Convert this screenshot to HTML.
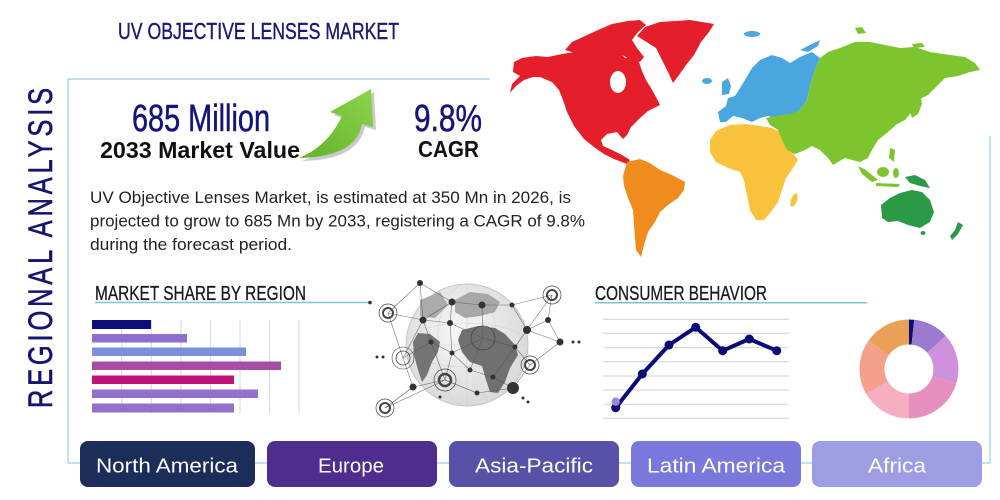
<!DOCTYPE html>
<html><head><meta charset="utf-8"><style>
html,body{margin:0;padding:0;background:#fff;width:1000px;height:500px;overflow:hidden}
svg{display:block}
text{font-family:"Liberation Sans",Arial,sans-serif}
.cond{font-family:"Liberation Sans Narrow","Liberation Sans",Arial,sans-serif}
</style></head><body>
<svg width="1000" height="500" viewBox="0 0 1000 500" xmlns="http://www.w3.org/2000/svg">
<defs>
<linearGradient id="ag" x1="0" y1="1" x2="1" y2="0"><stop offset="0" stop-color="#5fb52b"/><stop offset="1" stop-color="#8fd24a"/></linearGradient>
<radialGradient id="gg" cx="0.45" cy="0.4" r="0.6"><stop offset="0" stop-color="#f7f7f7"/><stop offset="1" stop-color="#d9d9d9"/></radialGradient>
</defs>
<rect width="1000" height="500" fill="#fff"/>

<!-- frame -->
<g stroke="#a8d8ea" stroke-width="1.5" fill="none">
<line x1="68" y1="79" x2="490" y2="79"/>
<line x1="68" y1="79" x2="68" y2="463"/>
<line x1="68" y1="463" x2="990" y2="463"/>
<line x1="990" y1="136" x2="990" y2="463"/>
</g>

<!-- vertical title -->
<text class="cond" transform="translate(52,248) rotate(-90) scale(0.75,1)" text-anchor="middle" font-size="34" fill="#15156e" stroke="#15156e" stroke-width="0.6" textLength="427" lengthAdjust="spacing">REGIONAL ANALYSIS</text>

<!-- title -->
<text class="cond" x="118" y="39" font-size="23" fill="#1a1a72" stroke="#1a1a72" stroke-width="0.4" textLength="281" lengthAdjust="spacingAndGlyphs">UV OBJECTIVE LENSES MARKET</text>

<!-- stats -->
<text class="cond" x="132" y="131" font-size="38" fill="#14147a" stroke="#14147a" stroke-width="0.5" textLength="138" lengthAdjust="spacingAndGlyphs">685 Million</text>
<text x="100" y="158" font-size="23" font-weight="bold" fill="#111" textLength="200" lengthAdjust="spacingAndGlyphs">2033 Market Value</text>
<text class="cond" x="414" y="131" font-size="38" fill="#14147a" stroke="#14147a" stroke-width="0.5" textLength="68" lengthAdjust="spacingAndGlyphs">9.8%</text>
<text x="418" y="157" font-size="23" font-weight="bold" fill="#111" textLength="61" lengthAdjust="spacingAndGlyphs">CAGR</text>

<!-- arrow -->
<path d="M302,161 Q332,150 346,120 L334,115 L374,92 L376,130 L365,127 Q358,160 302,161 Z" fill="#8a8a8a" opacity="0.45"/>
<path d="M299,158 Q328,146 342,116 L330,112 L371,89 L373,127 L362,124 Q356,157 299,158 Z" fill="url(#ag)"/>

<!-- paragraph -->
<text x="90" y="203" font-size="16.5" fill="#222" textLength="481" lengthAdjust="spacingAndGlyphs">UV Objective Lenses Market, is estimated at 350 Mn in 2026, is</text>
<text x="90" y="226.5" font-size="16.5" fill="#222" textLength="495" lengthAdjust="spacingAndGlyphs">projected to grow to 685 Mn by 2033, registering a CAGR of 9.8%</text>
<text x="90" y="250" font-size="16.5" fill="#222" textLength="202" lengthAdjust="spacingAndGlyphs">during the forecast period.</text>

<!-- MAP -->
<g>
<path fill="#e41e2b" d="M510,93 L516,86 L524,80 L533,77 L540,77 L552,82 L559,90 L563,100 L567,112 L574,126 L584,139 L594,147 L604,154 L614,159 L627,164 L630,160 L622,155 L612,150 L603,146 L601,140 L607,134 L617,132 L623,139 L627,135 L631,127 L640,118 L648,111 L660,105 L656,97 L651,88 L646,80 L642,71 L639,62 L632,57 L625,58 L617,50 L607,47 L598,50 L588,49 L575,52 L562,54 L548,57 L536,56 L522,58 L514,62 L513,72 L520,76 L512,84 Z"/>
<path fill="#e41e2b" d="M565,50 L572,42 L585,36 L598,30 L612,24 L628,21 L640,20 L646,25 L638,32 L632,40 L637,48 L644,57 L640,62 L628,58 L616,52 L603,50 L588,52 L575,53 Z"/>
<path fill="#e41e2b" d="M637,36 L645,27 L660,22 L690,20 L714,24 L709,32 L701,42 L694,55 L686,65 L679,75 L673,83 L668,72 L662,60 L656,48 Z"/>
<ellipse cx="618" cy="82" rx="8" ry="11" fill="#fff"/>
<path fill="#f08c1e" d="M627,162 L640,159 L650,163 L660,170 L672,175 L685,182 L684,190 L678,198 L668,205 L660,212 L655,222 L648,232 L644,245 L641,257 L636,250 L635,238 L634,225 L633,210 L628,198 L624,186 L623,176 Z"/>
<path fill="#4aa6df" d="M720,122 L718,112 L726,106 L728,98 L735,96 L740,88 L745,80 L752,68 L760,60 L772,55 L782,58 L790,63 L800,57 L812,52 L820,58 L815,70 L810,85 L807,100 L800,110 L793,114 L783,115 L775,118 L768,116 L760,118 L752,122 L742,118 L733,116 L726,122 Z"/>
<path fill="#4aa6df" d="M722,82 L728,78 L731,86 L729,94 L722,95 Z"/>
<ellipse cx="707" cy="81" rx="5" ry="3" fill="#4aa6df"/>
<ellipse cx="752" cy="34" rx="8" ry="3" fill="#4aa6df"/>
<path fill="#4aa6df" d="M800,50 L812,44 L820,40 L818,46 L808,52 Z"/>
<path fill="#f9c23c" d="M716,131 L730,125 L745,124 L760,126 L772,128 L780,132 L786,142 L792,152 L798,160 L793,168 L786,178 L782,190 L778,202 L770,213 L764,220 L756,220 L750,210 L747,195 L744,180 L740,172 L728,168 L716,162 L710,152 L710,140 Z"/>
<ellipse cx="794" cy="200" rx="3" ry="7" fill="#f9c23c" transform="rotate(20 794 200)"/>
<path fill="#7dc52e" d="M766,118 L776,116 L790,114 L800,110 L807,100 L810,85 L815,70 L820,58 L828,52 L840,48 L855,42 L870,42 L885,45 L900,48 L915,47 L930,52 L950,55 L965,57 L975,63 L980,70 L970,72 L958,76 L945,78 L935,88 L928,95 L918,100 L913,110 L905,120 L897,124 L888,132 L878,140 L872,150 L868,158 L860,162 L852,160 L845,158 L838,162 L833,165 L828,158 L820,150 L812,146 L805,150 L795,154 L787,150 L782,140 L778,130 L770,125 Z"/>
<path fill="#7dc52e" d="M915,96 L920,92 L922,104 L918,114 L912,118 L910,112 L916,104 Z"/>
<path fill="#7dc52e" d="M855,28 L862,27 L866,33 L858,34 Z"/>
<path fill="#7dc52e" d="M912,44 L922,43 L925,47 L914,48 Z"/>
<path fill="#7dc52e" d="M858,166 L866,170 L878,180 L872,182 L862,174 Z"/>
<ellipse cx="883" cy="172" rx="6" ry="5" fill="#7dc52e"/>
<path fill="#7dc52e" d="M876,183 L900,184 L898,187 L876,186 Z"/>
<ellipse cx="896" cy="173" rx="3" ry="5" fill="#7dc52e"/>
<path fill="#7dc52e" d="M890,148 L895,150 L894,162 L889,158 Z"/>
<path fill="#2a9a46" d="M881,205 L890,198 L900,193 L912,190 L922,192 L930,200 L934,212 L930,222 L920,228 L908,225 L898,221 L888,222 L882,218 Z"/>
<path fill="#2a9a46" d="M905,177 L915,175 L925,180 L930,188 L920,186 L910,183 Z"/>
<path fill="#2a9a46" d="M958,222 L963,225 L958,234 L952,240 L950,236 L955,230 Z"/>
<ellipse cx="923" cy="233" rx="2.5" ry="2" fill="#2a9a46"/>
</g>

<!-- Market share heading -->
<text class="cond" x="95" y="300" font-size="20.5" fill="#1a1a1a" stroke="#1a1a1a" stroke-width="0.3" textLength="211" lengthAdjust="spacingAndGlyphs">MARKET SHARE BY REGION</text>
<line x1="95" y1="302.5" x2="370" y2="302.5" stroke="#7ec3dc" stroke-width="1.5"/>
<circle cx="370" cy="302.5" r="1.8" fill="#333"/>

<g stroke="#d6d6d6" stroke-width="1">
<line x1="121.7" y1="320" x2="121.7" y2="413"/>
<line x1="151.3" y1="320" x2="151.3" y2="413"/>
<line x1="181" y1="320" x2="181" y2="413"/>
<line x1="210.7" y1="320" x2="210.7" y2="413"/>
<line x1="240" y1="320" x2="240" y2="413"/>
<line x1="269.7" y1="320" x2="269.7" y2="413"/>
<line x1="299" y1="320" x2="299" y2="413"/>
</g>
<rect x="92" y="320" width="59" height="9" fill="#0d0d7a"/>
<rect x="92" y="334" width="95" height="8.5" fill="#8e6fcf"/>
<rect x="92" y="347.5" width="154" height="8.5" fill="#7b8fdc"/>
<rect x="92" y="361.5" width="189" height="8.5" fill="#a94ca8"/>
<rect x="92" y="375.5" width="142" height="8.5" fill="#c0117a"/>
<rect x="92" y="389.5" width="166" height="8.5" fill="#9370cc"/>
<rect x="92" y="403.5" width="142" height="9" fill="#9370cc"/>

<!-- globe -->
<g>
<circle cx="467" cy="345" r="61" fill="url(#gg)"/>
<circle cx="467" cy="345" r="61" fill="none" stroke="#c4c4c4" stroke-width="1"/>
<g stroke="#cfcfcf" stroke-width="0.5" fill="none">
<ellipse cx="467" cy="345" rx="30" ry="61"/><ellipse cx="467" cy="345" rx="61" ry="22"/><line x1="467" y1="284" x2="467" y2="406"/><line x1="406" y1="345" x2="528" y2="345"/>
</g>
<path fill="#707070" d="M462,330 L478,326 L495,328 L505,334 L515,345 L518,355 L510,368 L505,382 L498,393 L490,392 L486,380 L482,366 L470,362 L462,352 L458,340 Z"/>
<path fill="#747474" d="M418,333 L430,334 L440,342 L438,352 L432,362 L427,375 L422,382 L418,370 L414,355 L413,342 Z"/>
<path fill="#a8a8a8" d="M455,300 L470,292 L488,294 L500,302 L495,312 L480,316 L465,318 L455,312 Z"/>
<path fill="#ababab" d="M420,300 L440,292 L448,305 L435,318 L420,316 Z"/>
<g stroke="#555" stroke-width="0.6" fill="none" opacity="0.8">
<path d="M388,313 L420,283 L452,302 L482,305 L512,305 L552,295 L548,320 L560,342 L530,365 L513,388 L477,393 L445,380 L413,387 L385,408"/>
<path d="M388,313 L423,320 L450,323 L483,338 L515,347 L527,330 L548,320"/>
<path d="M403,358 L431,342 L452,353 L470,370 L493,377 L513,388"/>
<path d="M420,283 L423,320 L431,342 L445,380 L477,393"/>
<path d="M452,302 L450,323 L452,353 L445,380"/>
<path d="M482,305 L483,338 L470,370"/>
<path d="M512,305 L527,330 L515,347 L530,365"/>
<path d="M552,295 L527,330 L560,342"/>
<path d="M403,358 L413,387 L385,408 L445,380"/>
<path d="M388,313 L403,358 L423,320 L452,302"/>
<path d="M493,377 L515,347 L483,338 L452,353"/>
</g>
<g fill="#333">
<circle cx="420" cy="283" r="3"/><circle cx="452" cy="302" r="3.5"/><circle cx="482" cy="305" r="3.5"/><circle cx="512" cy="305" r="2.5"/>
<circle cx="548" cy="320" r="3"/><circle cx="527" cy="330" r="4"/><circle cx="560" cy="342" r="3.5"/><circle cx="515" cy="347" r="2.5"/>
<circle cx="452" cy="353" r="2.5"/><circle cx="470" cy="370" r="2.5"/><circle cx="493" cy="377" r="2.5"/><circle cx="513" cy="388" r="6"/>
<circle cx="413" cy="387" r="3.5"/><circle cx="477" cy="393" r="2.5"/><circle cx="431" cy="342" r="2.5"/><circle cx="423" cy="320" r="3.5"/>
<circle cx="450" cy="323" r="3"/>
<circle cx="370" cy="303" r="1.3"/><circle cx="377" cy="357" r="1.5"/><circle cx="383" cy="357" r="1.5"/>
<circle cx="573" cy="342" r="1.5"/><circle cx="579" cy="342" r="1.5"/><circle cx="523" cy="398" r="1.5"/><circle cx="528" cy="402" r="1.5"/><circle cx="440" cy="397" r="1.5"/>
</g>
<g fill="none" stroke="#444">
<circle cx="388" cy="313" r="5" stroke-width="2"/><circle cx="388" cy="313" r="9" stroke-width="0.7"/>
<circle cx="552" cy="295" r="5" stroke-width="2"/><circle cx="552" cy="295" r="9" stroke-width="0.7"/>
<circle cx="530" cy="365" r="5" stroke-width="2"/><circle cx="530" cy="365" r="9" stroke-width="0.7"/>
<circle cx="445" cy="380" r="6" stroke-width="2.5"/><circle cx="445" cy="380" r="11" stroke-width="0.7"/>
<circle cx="385" cy="408" r="5" stroke-width="2"/><circle cx="385" cy="408" r="9" stroke-width="0.7"/>
<circle cx="403" cy="358" r="7" stroke-width="0.8"/><circle cx="403" cy="358" r="11" stroke-width="0.6"/>
<circle cx="483" cy="338" r="12" stroke-width="0.8"/>
</g>
</g>

<!-- Consumer behavior -->
<text class="cond" x="595" y="300" font-size="20.5" fill="#1a1a1a" stroke="#1a1a1a" stroke-width="0.3" textLength="172" lengthAdjust="spacingAndGlyphs">CONSUMER BEHAVIOR</text>
<line x1="595" y1="302.7" x2="867" y2="302.7" stroke="#7ec3dc" stroke-width="1.5"/>
<g stroke="#cfcfcf" stroke-width="1">
<line x1="603" y1="319.3" x2="789" y2="319.3"/>
<line x1="603" y1="333.3" x2="789" y2="333.3"/>
<line x1="603" y1="347.7" x2="789" y2="347.7"/>
<line x1="603" y1="361.7" x2="789" y2="361.7"/>
<line x1="603" y1="376" x2="789" y2="376"/>
<line x1="603" y1="390" x2="789" y2="390"/>
<line x1="603" y1="404.3" x2="789" y2="404.3"/>
<line x1="603" y1="418.3" x2="789" y2="418.3"/>
</g>
<polyline points="615.7,407.7 642.3,374 669,345 695.7,327.3 722.7,350.7 749.3,339 776.7,350.7" fill="none" stroke="#0a0a78" stroke-width="4" stroke-linejoin="round"/>
<g fill="#0a0a78">
<circle cx="615.7" cy="407.7" r="4.5"/>
<circle cx="642.3" cy="374" r="4.5"/>
<circle cx="669" cy="345" r="4.5"/>
<circle cx="695.7" cy="327.3" r="4.5"/>
<circle cx="722.7" cy="350.7" r="4.5"/>
<circle cx="749.3" cy="339" r="4.5"/>
<circle cx="776.7" cy="350.7" r="4.5"/>
</g>
<circle cx="615.7" cy="401.7" r="4.2" fill="#9c86d6"/>

<!-- donut -->
<g transform="translate(909,369)">
<path d="M0,-49.5 A49.5,49.5 0 0 1 5.2,-49.2 L2.6,-24.4 A24.5,24.5 0 0 0 0,-24.5 Z" fill="#0d0d7a"/>
<path d="M5.2,-49.2 A49.5,49.5 0 0 1 36.8,-33.1 L18.2,-16.4 A24.5,24.5 0 0 0 2.6,-24.4 Z" fill="#9a7bd0"/>
<path d="M36.8,-33.1 A49.5,49.5 0 0 1 47.3,14.5 L23.4,7.2 A24.5,24.5 0 0 0 18.2,-16.4 Z" fill="#cf90dc"/>
<path d="M47.3,14.5 A49.5,49.5 0 0 1 0,49.5 L0,24.5 A24.5,24.5 0 0 0 23.4,7.2 Z" fill="#e58fbf"/>
<path d="M0,49.5 A49.5,49.5 0 0 1 -42.9,24.8 L-21.2,12.3 A24.5,24.5 0 0 0 0,24.5 Z" fill="#f7aec0"/>
<path d="M-42.9,24.8 A49.5,49.5 0 0 1 -40.5,-28.4 L-20.1,-14.1 A24.5,24.5 0 0 0 -21.2,12.3 Z" fill="#f4a08a"/>
<path d="M-40.5,-28.4 A49.5,49.5 0 0 1 0,-49.5 L0,-24.5 A24.5,24.5 0 0 0 -20.1,-14.1 Z" fill="#eba058"/>
</g>

<!-- buttons -->
<rect x="80" y="441" width="175" height="46" rx="8" fill="#1b2e5a"/>
<rect x="267" y="441" width="170" height="46" rx="8" fill="#4e2d8e"/>
<rect x="449" y="441" width="170" height="46" rx="8" fill="#5751a8"/>
<rect x="631" y="441" width="170" height="46" rx="8" fill="#7b78db"/>
<rect x="812" y="441" width="170" height="46" rx="8" fill="#9d9de3"/>
<g fill="#fff" font-size="20">
<text x="96" y="472.5" textLength="142" lengthAdjust="spacingAndGlyphs">North America</text>
<text x="318" y="472.5" textLength="66" lengthAdjust="spacingAndGlyphs">Europe</text>
<text x="475" y="472.5" textLength="118" lengthAdjust="spacingAndGlyphs">Asia-Pacific</text>
<text x="647" y="472.5" textLength="138" lengthAdjust="spacingAndGlyphs">Latin America</text>
<text x="868" y="472.5" textLength="58" lengthAdjust="spacingAndGlyphs">Africa</text>
</g>
</svg>
</body></html>
